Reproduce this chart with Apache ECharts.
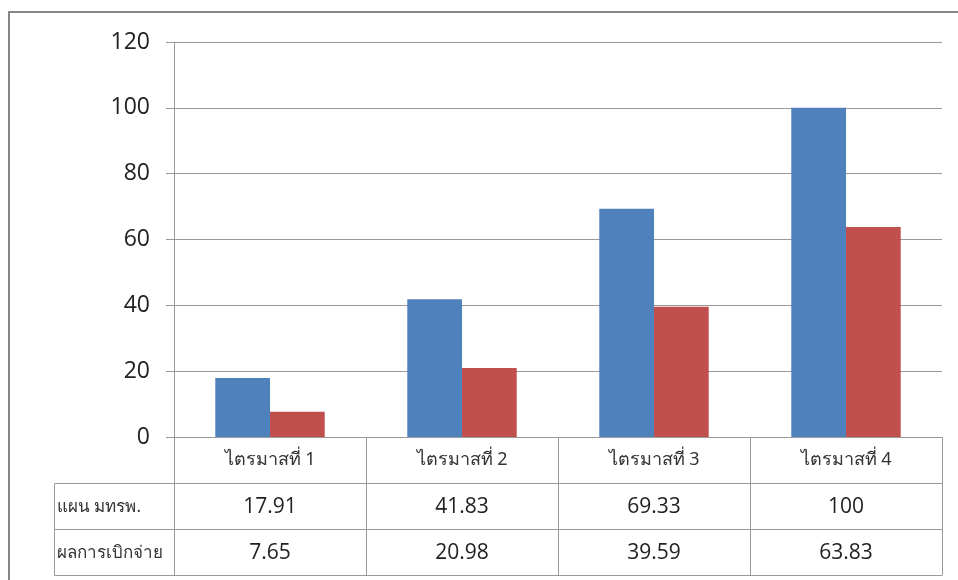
<!DOCTYPE html>
<html><head><meta charset="utf-8">
<script src="https://cdn.jsdelivr.net/npm/echarts@6/dist/echarts.min.js"></script>
<style>html,body{margin:0;padding:0;background:#fff}#c{width:958px;height:580px}</style>
</head><body><div id="c"></div>
<script>
var categories = ['ไตรมาสที่ 1','ไตรมาสที่ 2','ไตรมาสที่ 3','ไตรมาสที่ 4'];
var seriesNames = ['แผน มทรพ.','ผลการเบิกจ่าย'];
var planValues = [17.91, 41.83, 69.33, 100];
var actualValues = [7.65, 20.98, 39.59, 63.83];
var yTicks = [0, 20, 40, 60, 80, 100, 120];

var gridColor = '#9a9a9a';
var fontNum = '"Open Sans", "Noto Sans", sans-serif';
var fontThai = '"Noto Sans", "DejaVu Sans", sans-serif';
function fmt(v){ return String(v); }

var chart = echarts.init(document.getElementById('c'));
function tableAxis(data, offset, showLabels){
  return {
    type: 'category', data: data, position: 'bottom', offset: offset,
    axisLine: {show: true, lineStyle: {color: gridColor, width: 1}},
    axisTick: {show: true, length: 46, alignWithLabel: false, lineStyle: {color: gridColor}},
    axisLabel: {show: showLabels, margin: 14, fontSize: 21, color: '#222', fontFamily: fontNum}
  };
}
chart.setOption({
  animation: false,
  grid: {left: 174, right: 16, top: 42, bottom: 143, containLabel: false},
  xAxis: [
    {
      type: 'category', data: categories, position: 'bottom',
      axisLine: {show: true, lineStyle: {color: gridColor}},
      axisTick: {show: true, length: 46, alignWithLabel: false, lineStyle: {color: gridColor}},
      axisLabel: {margin: 14, fontSize: 18, color: '#333', fontFamily: fontThai}
    },
    tableAxis(planValues.map(fmt), 46, true),
    tableAxis(actualValues.map(fmt), 92, true),
    Object.assign(tableAxis(categories, 138, false), {axisTick: {show: false}})
  ],
  yAxis: {
    type: 'value', min: yTicks[0], max: yTicks[yTicks.length-1], interval: 20,
    axisLine: {show: true, lineStyle: {color: gridColor}},
    axisTick: {show: true, length: 8, lineStyle: {color: gridColor}},
    axisLabel: {margin: 24, fontSize: 23, color: '#222', fontFamily: fontNum},
    splitLine: {show: true, lineStyle: {color: gridColor}}
  },
  series: [
    {name: seriesNames[0], type: 'bar', data: planValues, xAxisIndex: 0,
     barGap: '0%', barCategoryGap: '43%', itemStyle: {color: '#4F81BD'}},
    {name: seriesNames[1], type: 'bar', data: actualValues, xAxisIndex: 0,
     barGap: '0%', barCategoryGap: '43%', itemStyle: {color: '#C0504D'}}
  ],
  graphic: [
    {type: 'rect', shape: {x: 9, y: 12, width: 990, height: 600},
     style: {fill: 'none', stroke: '#868686', lineWidth: 2}, silent: true},
    {type: 'rect', shape: {x: 54.5, y: 483.5, width: 120, height: 92},
     style: {fill: 'none', stroke: gridColor, lineWidth: 1}, silent: true},
    {type: 'line', shape: {x1: 54.5, y1: 529.5, x2: 174.5, y2: 529.5},
     style: {stroke: gridColor, lineWidth: 1}, silent: true},
    {type: 'text', x: 57, y: 507, style: {text: seriesNames[0], fontSize: 17, fill: '#333',
     fontFamily: fontThai, verticalAlign: 'middle', align: 'left'}},
    {type: 'text', x: 57, y: 553, style: {text: seriesNames[1], fontSize: 17, fill: '#333',
     fontFamily: fontThai, verticalAlign: 'middle', align: 'left'}}
  ]
});
</script></body></html>
